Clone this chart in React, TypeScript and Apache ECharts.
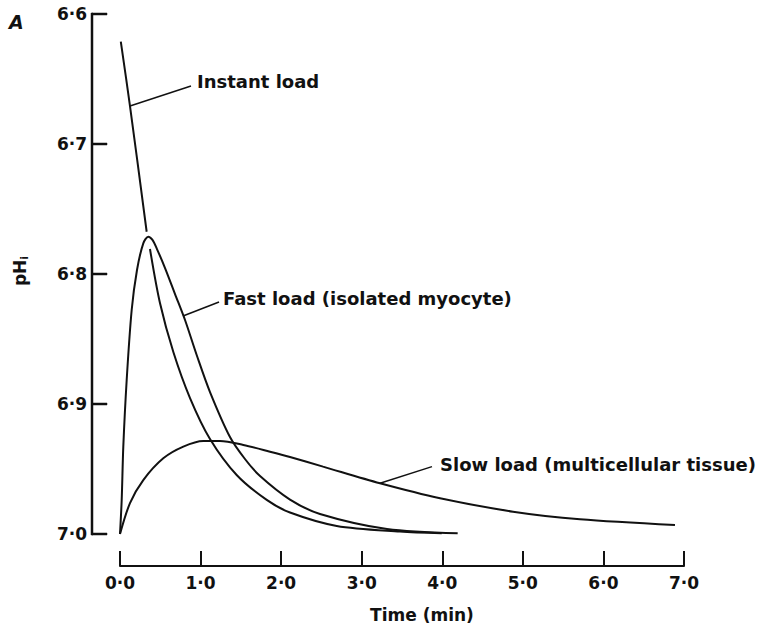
import React, { useEffect, useRef } from "react";
import * as echarts from "echarts";

// Time (min) and pHi values
const instantTime = [0.01, 0.124, 0.331, 0.35, 0.372, 0.496, 0.662, 0.869, 1.117, 1.448, 1.821, 2.11, 2.69, 3.475, 3.993];
const instantPH = [6.6213, 6.6708, 6.7675, null, 6.7808, 6.8223, 6.86, 6.8954, 6.9269, 6.9546, 6.9738, 6.9835, 6.9938, 6.9981, 6.9995];

const fastTime = [0, 0.021, 0.041, 0.083, 0.145, 0.211, 0.289, 0.351, 0.403, 0.459, 0.559, 0.683, 0.807, 0.956, 1.117, 1.365, 1.551, 1.738, 2.11, 2.482, 3.314, 4.191];
const fastPH = [7.0, 6.9738, 6.9328, 6.8815, 6.8277, 6.7969, 6.7764, 6.7713, 6.7738, 6.7808, 6.7954, 6.8154, 6.8354, 6.8631, 6.8908, 6.9254, 6.9423, 6.9554, 6.9735, 6.9846, 6.9962, 6.9995];

const slowTime = [0, 0.124, 0.289, 0.537, 0.786, 1.034, 1.241, 1.53, 1.862, 2.11, 2.52, 3.227, 3.972, 4.878, 5.709, 6.888];
const slowPH = [7.0, 6.9762, 6.9585, 6.9418, 6.9328, 6.9285, 6.9285, 6.9315, 6.9367, 6.9408, 6.9482, 6.961, 6.9725, 6.9828, 6.9887, 6.9931];

const curveNames = ["Instant load", "Fast load (isolated myocyte)", "Slow load (multicellular tissue)"];

// annotation leader lines (data coordinates) and label anchors
const leaderLines = [
  [[0.124, 6.6708], [0.881, 6.6554]],
  [[0.782, 6.8323], [1.229, 6.8215]],
  [[3.227, 6.961], [3.872, 6.9482]],
];
const labelAnchors = [
  [0.956, 6.6523],
  [1.278, 6.8192],
  [3.972, 6.9469],
];

const xMin = 0, xMax = 7, xStep = 1;
const yMin = 6.6, yMax = 7.0, yStep = 0.1;
const yTickValues = [6.6, 6.7, 6.8, 6.9, 7.0];

const FONT = "DejaVu Sans";
const INK = "#111";
const GRID = { left: 120, right: 86, top: 14, bottom: 98 };
const CHART_H = 632;
const Y_AXIS_OFFSET = 28;
const TICK_LEN = 15;

const fmt = (v: number) => v.toFixed(1).replace(".", "\u00B7");

const zip = (t: number[], y: (number | null)[]) =>
  t.map((tt, i) => (y[i] === null ? [tt, "-"] : [tt, y[i]]));

export default function App() {
  const ref = useRef<HTMLDivElement>(null);
  useEffect(() => {
    if (!ref.current) return;
    const chart = echarts.init(ref.current, undefined, { renderer: "svg" });
    const curveStyle = { color: INK, width: 2 };
    const series: any[] = [
      { name: curveNames[0], data: zip(instantTime, instantPH) },
      { name: curveNames[1], data: zip(fastTime, fastPH) },
      { name: curveNames[2], data: zip(slowTime, slowPH) },
    ].map((s) => ({
      ...s,
      type: "line",
      smooth: 0.3,
      symbol: "none",
      silent: true,
      connectNulls: false,
      lineStyle: curveStyle,
    }));
    leaderLines.forEach((l, i) => {
      series.push({
        name: "leader" + i,
        type: "line",
        data: l,
        symbol: "none",
        silent: true,
        lineStyle: { color: INK, width: 1.5 },
      });
    });

    const axisX = GRID.left - Y_AXIS_OFFSET;
    const plotTop = GRID.top;
    const plotBottom = CHART_H - GRID.bottom;
    const yPixLinear = (v: number) => plotTop + ((v - yMin) / (yMax - yMin)) * (plotBottom - plotTop);

    const staticGraphics: any[] = [
      {
        type: "rect",
        id: "yAxisLine",
        silent: true,
        shape: { x: axisX - 1, y: plotTop - 1, width: 2, height: plotBottom - plotTop + 2 },
        style: { fill: INK, stroke: INK, lineWidth: 0.5 },
      },
      ...yTickValues.map((v, i) => ({
        type: "rect",
        id: "yTick" + i,
        silent: true,
        shape: { x: axisX, y: yPixLinear(v) - 1, width: TICK_LEN, height: 2 },
        style: { fill: INK, stroke: INK, lineWidth: 0.5 },
      })),
      {
        type: "text",
        x: 9,
        y: 22,
        style: {
          text: "A",
          fill: INK,
          font: `italic bold 19px "${FONT}"`,
          verticalAlign: "middle",
        },
      },
      {
        type: "text",
        x: 20,
        y: 271,
        rotation: Math.PI / 2,
        style: {
          text: "{a|pH}{b|i}",
          align: "center",
          verticalAlign: "middle",
          rich: {
            a: { fontFamily: FONT, fontWeight: "bold", fontSize: 17, fill: INK, color: INK },
            b: { fontFamily: FONT, fontWeight: "bold", fontSize: 11, fill: INK, color: INK, padding: [8, 0, 0, 0] },
          },
        },
      },
      {
        type: "text",
        x: 422,
        y: 615,
        style: {
          text: "Time (min)",
          fill: INK,
          font: `bold 17px "${FONT}"`,
          align: "center",
          verticalAlign: "middle",
        },
      },
    ];

    chart.setOption({
      animation: false,
      backgroundColor: "#fff",
      grid: GRID,
      xAxis: {
        type: "value",
        min: xMin,
        max: xMax,
        interval: xStep,
        offset: 32,
        axisLine: { onZero: false, lineStyle: { color: INK, width: 2 } },
        axisTick: { inside: true, length: TICK_LEN, lineStyle: { color: INK, width: 2 } },
        axisLabel: {
          formatter: fmt,
          margin: 8,
          color: INK,
          fontFamily: FONT,
          fontWeight: "bold",
          fontSize: 17,
        },
        splitLine: { show: false },
      },
      yAxis: {
        type: "value",
        inverse: true,
        min: yMin,
        max: yMax,
        interval: yStep,
        offset: Y_AXIS_OFFSET,
        axisLine: { show: false, onZero: false },
        axisTick: { show: false },
        axisLabel: {
          formatter: fmt,
          margin: 5,
          color: INK,
          fontFamily: FONT,
          fontWeight: "bold",
          fontSize: 17,
        },
        splitLine: { show: false },
      },
      graphic: staticGraphics,
      series,
    });

    const labelGraphics = labelAnchors.map((a, i) => {
      const p = chart.convertToPixel({ gridIndex: 0 }, a) as number[];
      return {
        type: "text",
        id: "label" + i,
        x: p[0],
        y: p[1],
        style: {
          text: curveNames[i],
          fill: INK,
          font: `bold 18px "${FONT}"`,
          align: "left",
          verticalAlign: "middle",
        },
      };
    });
    chart.setOption({ graphic: [...staticGraphics, ...labelGraphics] });

    return () => chart.dispose();
  }, []);
  return (
    <div
      ref={ref}
      style={{ position: "fixed", left: 0, top: 0, width: 770, height: 632, background: "#fff" }}
    />
  );
}
